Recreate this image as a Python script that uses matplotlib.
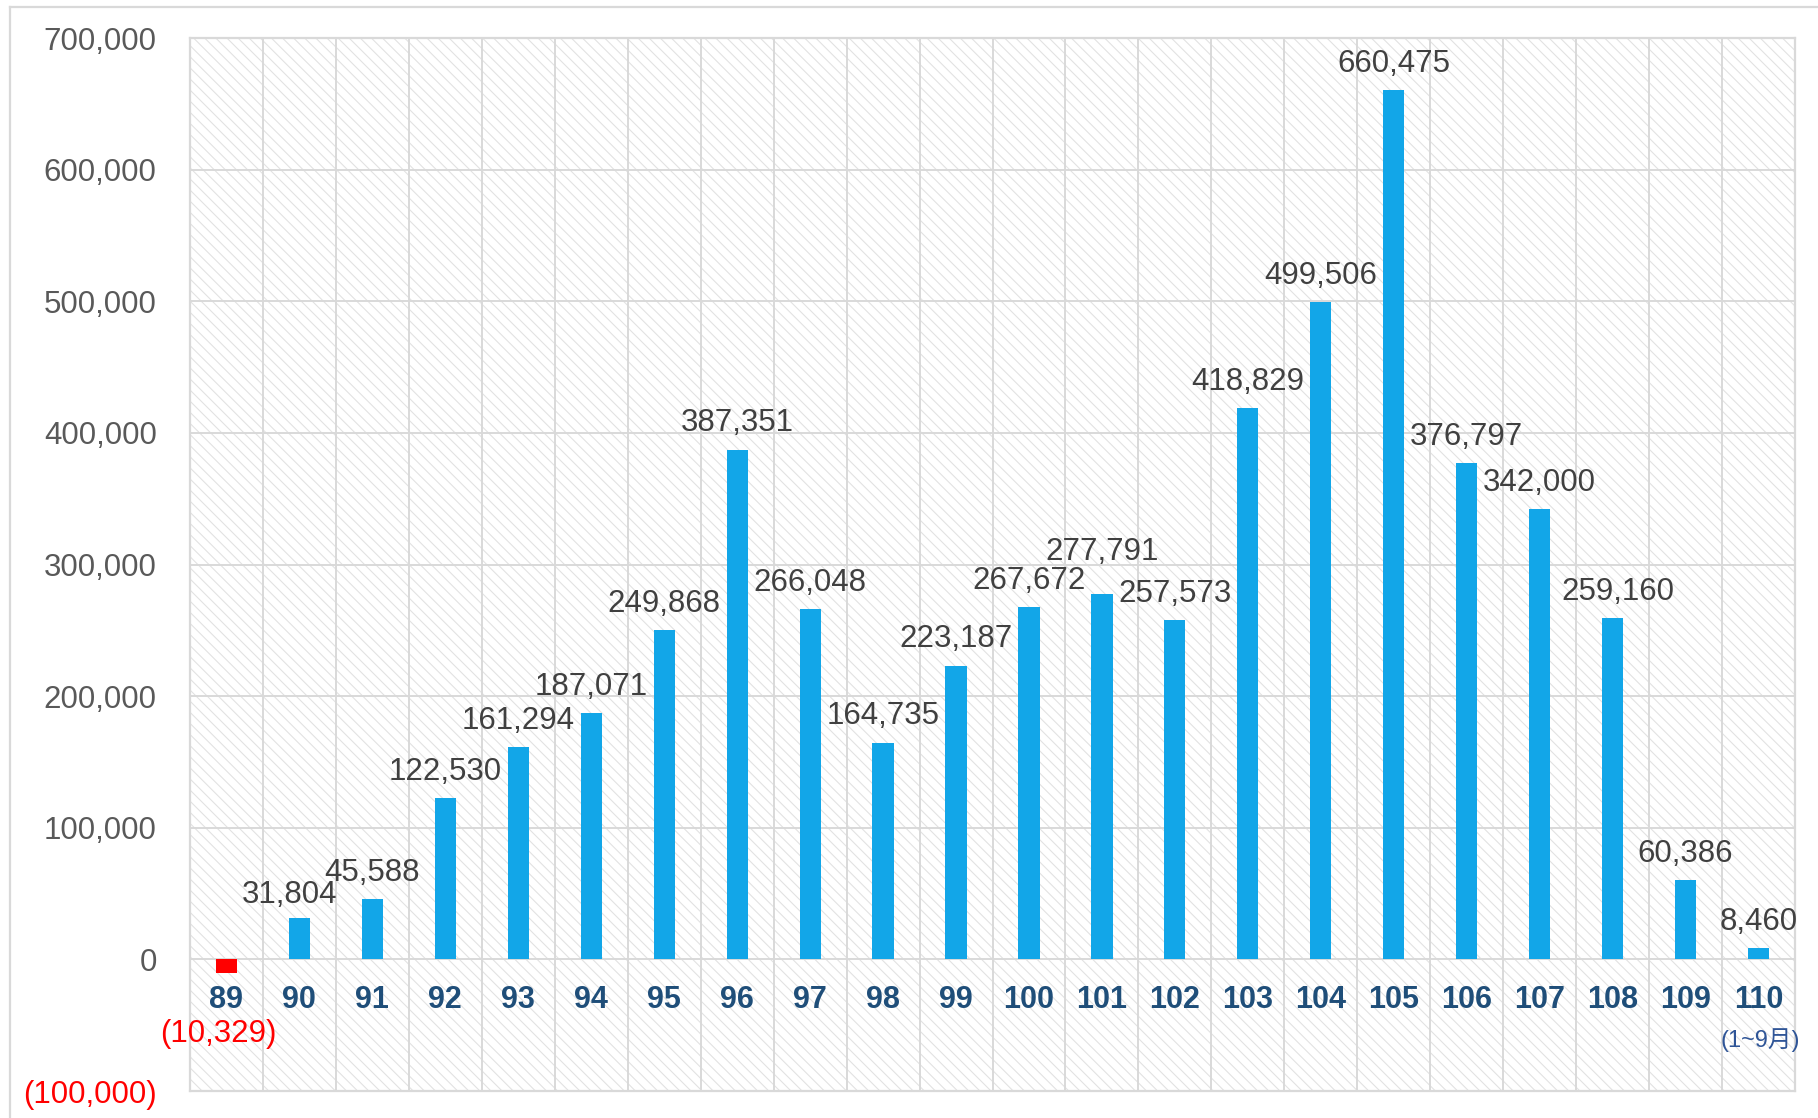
import matplotlib.pyplot as plt
from matplotlib.patches import Rectangle
from matplotlib.lines import Line2D
import matplotlib as mpl

plt.rcParams['font.family'] = ['Liberation Sans', 'Noto Sans CJK TC', 'DejaVu Sans']
mpl.rcParams['hatch.linewidth'] = 0.8

years = ['89', '90', '91', '92', '93', '94', '95', '96', '97', '98', '99',
         '100', '101', '102', '103', '104', '105', '106', '107', '108', '109', '110']
values = [-10329, 31804, 45588, 122530, 161294, 187071, 249868, 387351, 266048,
          164735, 223187, 267672, 277791, 257573, 418829, 499506, 660475, 376797,
          342000, 259160, 60386, 8460]
y_ticks = [-100000, 0, 100000, 200000, 300000, 400000, 500000, 600000, 700000]
note_last = '(1~9月)'

# label nudges (points) where the original moved labels to avoid overlaps
nudge = {1: (-7, -3), 12: (0, 11), 19: (4, 0), 0: (-6, 0)}

def fmt(v):
    s = '{:,}'.format(abs(v))
    return '(' + s + ')' if v < 0 else s

fig = plt.figure(figsize=(18.18, 11.18), dpi=100)
ax = fig.add_axes([190/1818, 1 - 1091/1118, (1795-190)/1818, (1091-38)/1118])

grid_c = '#d9d9d9'
ax.add_patch(Rectangle((0, 0), 1, 1, transform=ax.transAxes, facecolor='white',
                       edgecolor='#e2e2e2', hatch='\\\\\\', lw=0, zorder=0))

x = list(range(len(years)))
colors = ['#ff0000' if v < 0 else '#12a6e8' for v in values]
ax.bar(x, values, width=0.29, color=colors, zorder=3)

ax.set_xlim(-0.5, len(years) - 0.5)
ax.set_ylim(-100000, 700000)
ax.set_yticks(y_ticks)
ax.set_yticklabels([fmt(v) for v in y_ticks], fontsize=22.5)
for lab, v in zip(ax.get_yticklabels(), y_ticks):
    lab.set_color('#ff0000' if v < 0 else '#595959')
ax.tick_params(axis='y', length=0, pad=24)
ax.set_xticks([i + 0.5 for i in x[:-1]])
ax.set_xticklabels([])
ax.tick_params(axis='x', length=0)
ax.grid(True, color=grid_c, lw=1.4, zorder=1)
ax.set_axisbelow(True)
for sp in ax.spines.values():
    sp.set_color(grid_c)
    sp.set_linewidth(1.6)

for i, v in enumerate(values):
    dx, dy = nudge.get(i, (0, 0))
    if v >= 0:
        ax.annotate(fmt(v), (i, v), xytext=(dx, 19 + dy), textcoords='offset points',
                    ha='center', va='center', fontsize=22.5, color='#404040', zorder=5)
    else:
        ax.annotate(fmt(v), (i, v), xytext=(dx, -44 + dy), textcoords='offset points',
                    ha='center', va='center', fontsize=22.5, color='#ff0000', zorder=5)
    ax.annotate(years[i], (i, 0), xytext=(0, -29.5), textcoords='offset points',
                ha='center', va='center', fontsize=22, fontweight='bold',
                color='#1f4e79', zorder=5)

ax.annotate(note_last, (len(years) - 1, 0), xytext=(1, -58), textcoords='offset points',
            ha='center', va='center', fontsize=17, color='#2f5597', zorder=5)

# outer frame
fig.add_artist(Line2D([10/1818, 1], [1 - 7/1118, 1 - 7/1118], color=grid_c, lw=1.6))
fig.add_artist(Line2D([10/1818, 10/1818], [0, 1 - 7/1118], color=grid_c, lw=1.6))

fig.savefig('out.png', dpi=100)
